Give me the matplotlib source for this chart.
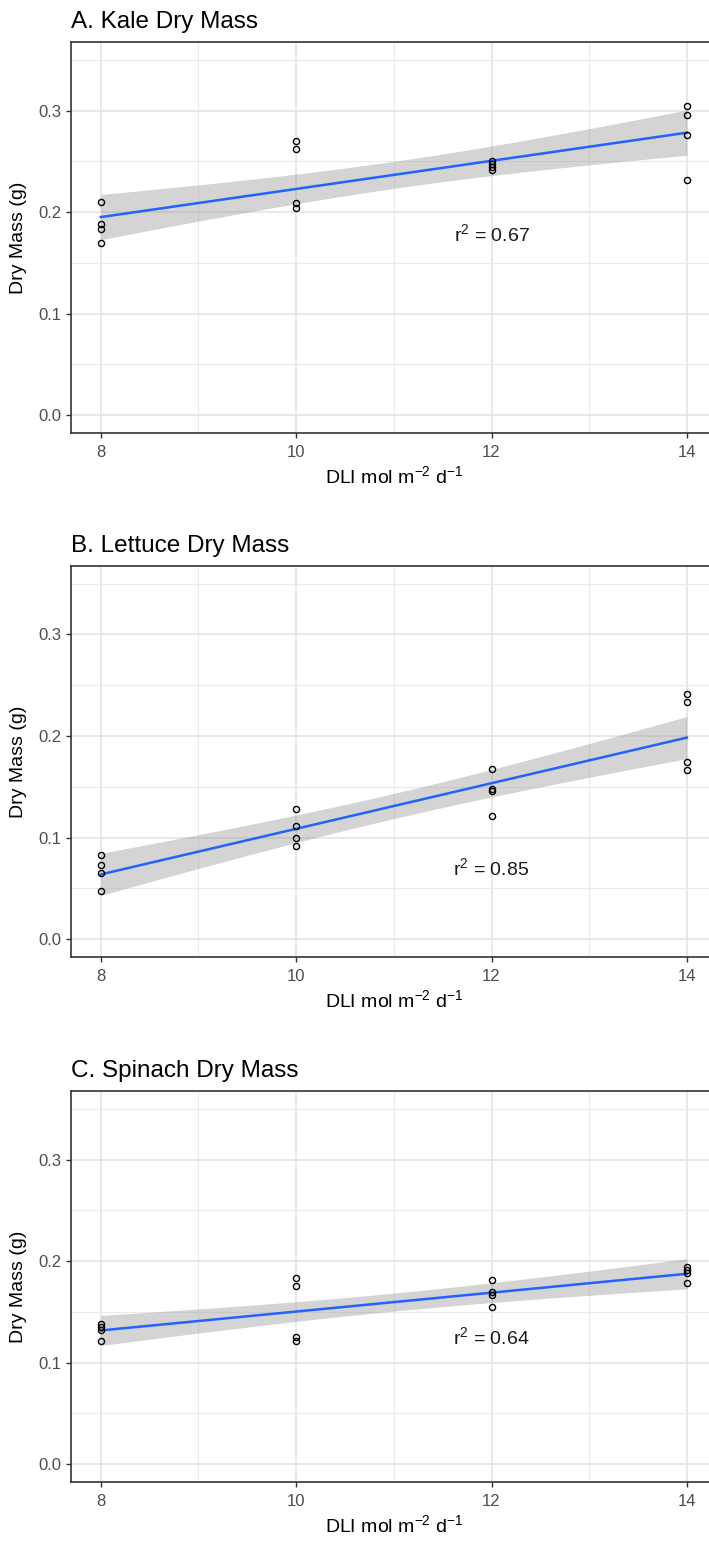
import numpy as np
import matplotlib.pyplot as plt
from matplotlib.ticker import FixedLocator, FormatStrFormatter

plt.rcParams['font.family'] = ['Liberation Sans', 'DejaVu Sans']
plt.rcParams['mathtext.fontset'] = 'custom'
plt.rcParams['mathtext.rm'] = 'Liberation Sans'
plt.rcParams['mathtext.it'] = 'Liberation Sans:italic'
plt.rcParams['mathtext.default'] = 'regular'

# --- dane ---
dli = [8, 10, 12, 14]

kale = [[0.210, 0.188, 0.183, 0.170],
        [0.270, 0.262, 0.209, 0.204],
        [0.250, 0.247, 0.244, 0.241],
        [0.304, 0.296, 0.276, 0.232]]

lettuce = [[0.083, 0.073, 0.065, 0.047],
           [0.128, 0.111, 0.100, 0.092],
           [0.168, 0.148, 0.146, 0.121],
           [0.241, 0.234, 0.174, 0.167]]

spinach = [[0.138, 0.135, 0.132, 0.121],
           [0.183, 0.175, 0.125, 0.121],
           [0.181, 0.170, 0.167, 0.155],
           [0.194, 0.191, 0.188, 0.178]]

titles = ["A. Kale Dry Mass", "B. Lettuce Dry Mass", "C. Spinach Dry Mass"]
r2_text = ["0.67", "0.85", "0.64"]
r2_x = [12, 12, 12]
r2_y = [0.178, 0.07, 0.125]

T_CRIT = 2.1448  # t(0.975, df=14)


def rysuj_panel(ax, grupy, tytul, r2, rx, ry):
    x = np.repeat(dli, [len(g) for g in grupy]).astype(float)
    y = np.concatenate([np.array(g, dtype=float) for g in grupy])

    # regresja liniowa + przedzial ufnosci (jak geom_smooth(method="lm"))
    b, a = np.polyfit(x, y, 1)
    n = len(x)
    resid = y - (a + b * x)
    s = np.sqrt(np.sum(resid ** 2) / (n - 2))
    sxx = np.sum((x - x.mean()) ** 2)
    xs = np.linspace(min(dli), max(dli), 80)
    ys = a + b * xs
    se = s * np.sqrt(1 / n + (xs - x.mean()) ** 2 / sxx)

    ax.fill_between(xs, ys - T_CRIT * se, ys + T_CRIT * se, color="#999999",
                    alpha=0.42, lw=0, zorder=2)
    ax.plot(xs, ys, color="#2262FF", lw=1.8, zorder=3)
    ax.plot(x, y, "o", mfc="none", mec="black", ms=4.4, mew=1.0, zorder=4)

    ax.text(rx, ry, r"$r^2$ = " + r2, ha="center", va="center", fontsize=14,
            color="#1a1a1a")

    ax.set_xlim(7.7, 14.3)
    ax.set_ylim(-0.0175, 0.3675)
    ax.xaxis.set_major_locator(FixedLocator([8, 10, 12, 14]))
    ax.xaxis.set_minor_locator(FixedLocator([9, 11, 13]))
    ax.yaxis.set_major_locator(FixedLocator([0.0, 0.1, 0.2, 0.3]))
    ax.yaxis.set_minor_locator(FixedLocator([0.05, 0.15, 0.25, 0.35]))
    ax.yaxis.set_major_formatter(FormatStrFormatter("%.1f"))

    ax.grid(which="major", color="#E2E2E2", lw=1.1, zorder=0)
    ax.grid(which="minor", color="#EBEBEB", lw=0.8, zorder=0)
    ax.set_axisbelow(True)

    ax.tick_params(which="major", length=3.5, width=1.0, color="#333333",
                   labelsize=12, labelcolor="#4D4D4D")
    ax.tick_params(axis="x", pad=5)
    ax.tick_params(axis="y", pad=4)
    ax.tick_params(which="minor", length=0)
    for sp in ax.spines.values():
        sp.set_color("#333333")
        sp.set_linewidth(1.2)

    ax.set_xlabel(r"DLI mol m$^{-2}$ d$^{-1}$", fontsize=14, labelpad=4)
    ax.set_ylabel("Dry Mass (g)", fontsize=14, labelpad=8)
    ax.set_title(tytul, loc="left", fontsize=17.5, pad=10)


fig = plt.figure(figsize=(7.09, 15.42), dpi=100)
dolne = [0.7192, 0.3794, 0.0389]
dane = [kale, lettuce, spinach]

for i in range(3):
    ax = fig.add_axes([0.1008, dolne[i], 0.9094, 0.2536])
    rysuj_panel(ax, dane[i], titles[i], r2_text[i], r2_x[i], r2_y[i])

fig.savefig("out.png", dpi=100)
